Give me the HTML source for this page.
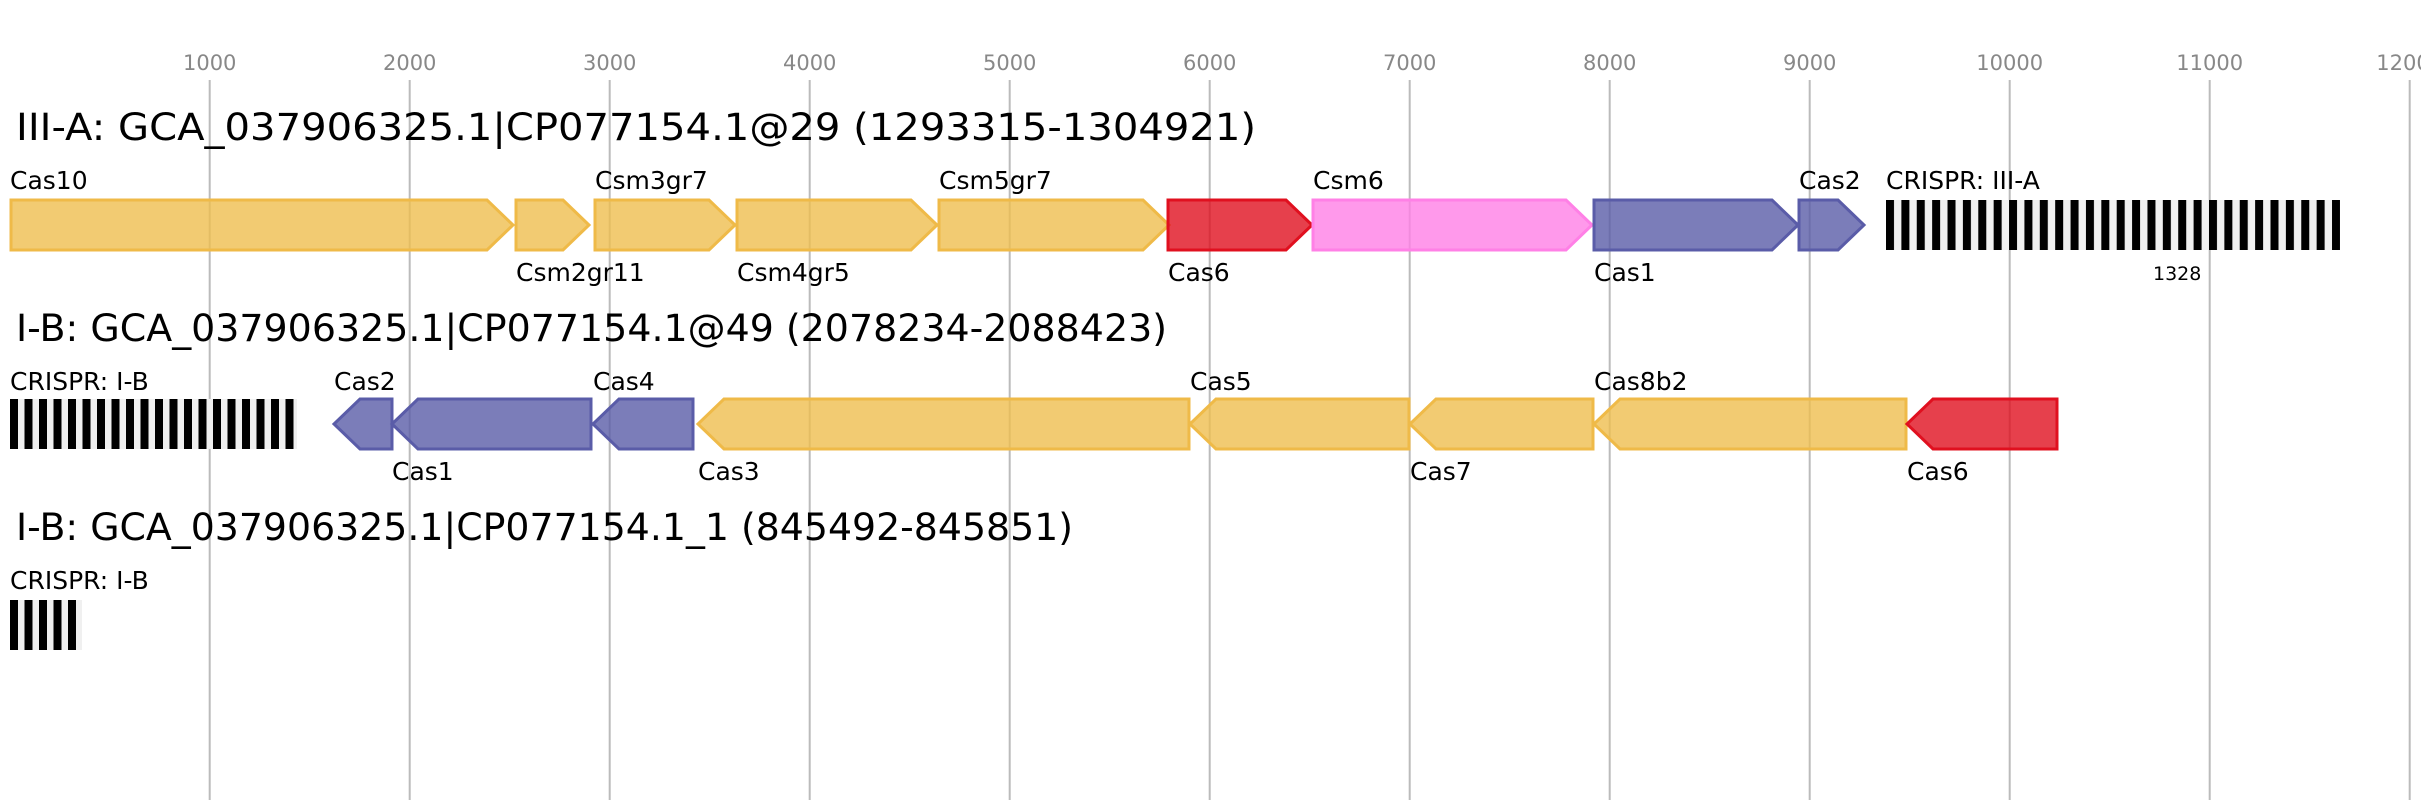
<!DOCTYPE html>
<html><head><meta charset="utf-8"><style>html,body{margin:0;padding:0;background:#fff}svg{display:block}</style></head>
<body>
<svg width="2421" height="800" viewBox="0 0 2421 800" xmlns="http://www.w3.org/2000/svg" font-family="DejaVu Sans, Liberation Sans, sans-serif">
<defs>
<pattern id="cr" x="10" y="0" width="14.5" height="10" patternUnits="userSpaceOnUse">
<rect width="14.5" height="10" fill="#f0f0f0"/><rect width="8" height="10" fill="#000"/>
</pattern>
<pattern id="cr1" x="1886" y="0" width="15.38" height="10" patternUnits="userSpaceOnUse">
<rect width="15.38" height="10" fill="#f0f0f0"/><rect width="8" height="10" fill="#000"/>
</pattern>
</defs>
<g stroke="#bbb" stroke-width="2">
<line x1="209.7" y1="80" x2="209.7" y2="800"/><line x1="409.7" y1="80" x2="409.7" y2="800"/><line x1="609.7" y1="80" x2="609.7" y2="800"/><line x1="809.7" y1="80" x2="809.7" y2="800"/><line x1="1009.7" y1="80" x2="1009.7" y2="800"/><line x1="1209.7" y1="80" x2="1209.7" y2="800"/><line x1="1409.7" y1="80" x2="1409.7" y2="800"/><line x1="1609.7" y1="80" x2="1609.7" y2="800"/><line x1="1809.7" y1="80" x2="1809.7" y2="800"/><line x1="2009.7" y1="80" x2="2009.7" y2="800"/><line x1="2209.7" y1="80" x2="2209.7" y2="800"/><line x1="2409.7" y1="80" x2="2409.7" y2="800"/>
</g>
<g fill="#888" font-size="21" text-anchor="middle">
<text x="209.7" y="70">1000</text><text x="409.7" y="70">2000</text><text x="609.7" y="70">3000</text><text x="809.7" y="70">4000</text><text x="1009.7" y="70">5000</text><text x="1209.7" y="70">6000</text><text x="1409.7" y="70">7000</text><text x="1609.7" y="70">8000</text><text x="1809.7" y="70">9000</text><text x="2009.7" y="70">10000</text><text x="2209.7" y="70">11000</text><text x="2409.7" y="70">12000</text>
</g>
<g font-size="37" fill="#000">
<text x="16" y="140" textLength="1240" lengthAdjust="spacingAndGlyphs">III-A: GCA_037906325.1|CP077154.1@29 (1293315-1304921)</text>
<text x="16" y="341" textLength="1151" lengthAdjust="spacingAndGlyphs">I-B: GCA_037906325.1|CP077154.1@49 (2078234-2088423)</text>
<text x="16" y="540" textLength="1057" lengthAdjust="spacingAndGlyphs">I-B: GCA_037906325.1|CP077154.1_1 (845492-845851)</text>
</g>
<g stroke-width="3" fill-opacity="0.8">
<polygon points="11,200 487,200 513,225 487,250 11,250" fill="#efbe4f" stroke="#efba48"/>
<polygon points="516,200 563,200 589,225 563,250 516,250" fill="#efbe4f" stroke="#efba48"/>
<polygon points="595,200 709,200 735,225 709,250 595,250" fill="#efbe4f" stroke="#efba48"/>
<polygon points="737,200 911,200 937,225 911,250 737,250" fill="#efbe4f" stroke="#efba48"/>
<polygon points="939,200 1143,200 1169,225 1143,250 939,250" fill="#efbe4f" stroke="#efba48"/>
<polygon points="1168,200 1286,200 1312,225 1286,250 1168,250" fill="#e0101f" stroke="#e0101f"/>
<polygon points="1313,200 1566,200 1592,225 1566,250 1313,250" fill="#ff80e6" stroke="#ff80e6"/>
<polygon points="1594,200 1772,200 1798,225 1772,250 1594,250" fill="#5a5ca8" stroke="#5a5ca8"/>
<polygon points="1799,200 1838,200 1864,225 1838,250 1799,250" fill="#5a5ca8" stroke="#5a5ca8"/>
<polygon points="392,399 360,399 334,424 360,449 392,449" fill="#5a5ca8" stroke="#5a5ca8"/>
<polygon points="591,399 418,399 392,424 418,449 591,449" fill="#5a5ca8" stroke="#5a5ca8"/>
<polygon points="693,399 619,399 593,424 619,449 693,449" fill="#5a5ca8" stroke="#5a5ca8"/>
<polygon points="1189,399 724,399 698,424 724,449 1189,449" fill="#efbe4f" stroke="#efba48"/>
<polygon points="1409,399 1216,399 1190,424 1216,449 1409,449" fill="#efbe4f" stroke="#efba48"/>
<polygon points="1593,399 1436,399 1410,424 1436,449 1593,449" fill="#efbe4f" stroke="#efba48"/>
<polygon points="1906,399 1620,399 1594,424 1620,449 1906,449" fill="#efbe4f" stroke="#efba48"/>
<polygon points="2057,399 1933,399 1907,424 1933,449 2057,449" fill="#e0101f" stroke="#e0101f"/>
</g>
<rect x="1886" y="200" width="454" height="50" fill="url(#cr1)"/>
<rect x="10" y="399" width="287" height="50" fill="url(#cr)"/>
<rect x="10" y="600" width="72" height="50" fill="url(#cr)"/>
<g font-size="25" fill="#000">
<text x="10" y="189">Cas10</text>
<text x="516" y="281">Csm2gr11</text>
<text x="595" y="189">Csm3gr7</text>
<text x="737" y="281">Csm4gr5</text>
<text x="939" y="189">Csm5gr7</text>
<text x="1168" y="281">Cas6</text>
<text x="1313" y="189">Csm6</text>
<text x="1594" y="281">Cas1</text>
<text x="1799" y="189">Cas2</text>
<text x="1886" y="189">CRISPR: III-A</text>
<text x="2153" y="280" font-size="19">1328</text>
<text x="10" y="390">CRISPR: I-B</text>
<text x="334" y="390">Cas2</text>
<text x="392" y="480">Cas1</text>
<text x="593" y="390">Cas4</text>
<text x="698" y="480">Cas3</text>
<text x="1190" y="390">Cas5</text>
<text x="1410" y="480">Cas7</text>
<text x="1594" y="390">Cas8b2</text>
<text x="1907" y="480">Cas6</text>
<text x="10" y="589">CRISPR: I-B</text>
</g>
</svg>
</body></html>
